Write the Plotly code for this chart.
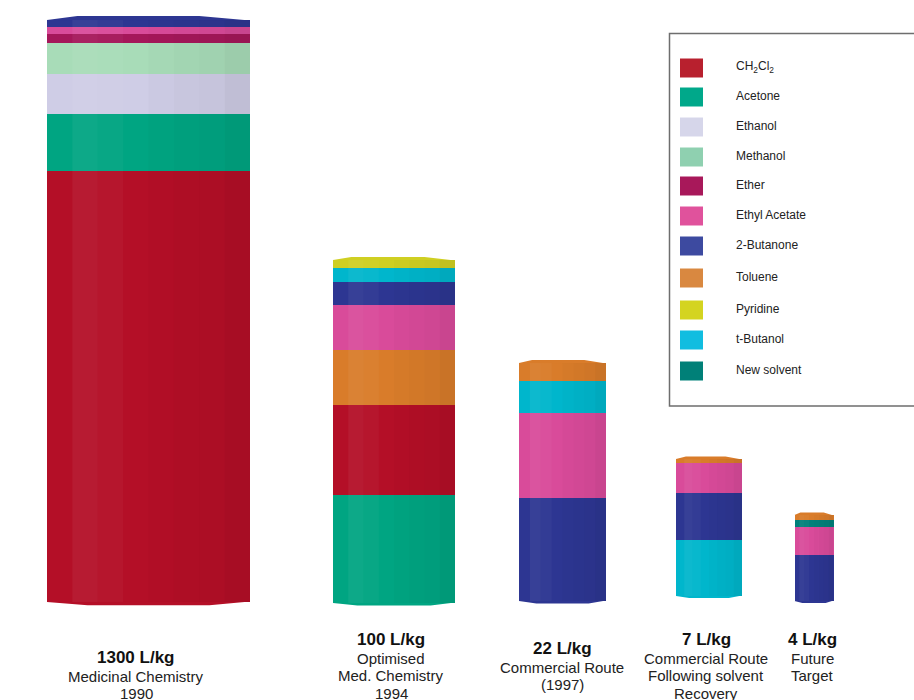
import plotly.graph_objects as go

# ---------------- data ----------------
solvents = ["CH2Cl2", "Acetone", "Ethanol", "Methanol", "Ether", "Ethyl Acetate",
            "2-Butanone", "Toluene", "Pyridine", "t-Butanol", "New solvent"]
solvent_labels = ["CH<sub>2</sub>Cl<sub>2</sub>", "Acetone", "Ethanol", "Methanol", "Ether",
                  "Ethyl Acetate", "2-Butanone", "Toluene", "Pyridine", "t-Butanol", "New solvent"]

col_totals = ["1300 L/kg", "100 L/kg", "22 L/kg", "7 L/kg", "4 L/kg"]
col_descriptions = [["Medicinal Chemistry", "1990"],
                    ["Optimised", "Med. Chemistry", "1994"],
                    ["Commercial Route", "(1997)"],
                    ["Commercial Route", "Following solvent", "Recovery"],
                    ["Future", "Target"]]

# stacked segments, bottom to top (heights as drawn, arbitrary units)
stack_1990_solv = ["CH2Cl2", "Acetone", "Ethanol", "Methanol", "Ether", "Ethyl Acetate", "2-Butanone"]
stack_1990_vals = [431, 57, 40, 31, 9, 7, 7]
stack_1994_solv = ["Acetone", "CH2Cl2", "Toluene", "Ethyl Acetate", "2-Butanone", "t-Butanol", "Pyridine"]
stack_1994_vals = [108, 90, 55, 45, 23, 14, 8]
stack_1997_solv = ["2-Butanone", "Ethyl Acetate", "t-Butanol", "Toluene"]
stack_1997_vals = [103, 85, 32, 18]
stack_recov_solv = ["t-Butanol", "2-Butanone", "Ethyl Acetate", "Toluene"]
stack_recov_vals = [56, 47, 30, 4]
stack_future_solv = ["2-Butanone", "Ethyl Acetate", "New solvent", "Toluene"]
stack_future_vals = [46, 28, 7, 5]

stacks = [(stack_1990_solv, stack_1990_vals), (stack_1994_solv, stack_1994_vals),
          (stack_1997_solv, stack_1997_vals), (stack_recov_solv, stack_recov_vals),
          (stack_future_solv, stack_future_vals)]

# ---------------- styles / layout constants ----------------
colors = {"CH2Cl2": "#b40f27", "Acetone": "#00a582", "Ethanol": "#cfcde6",
          "Methanol": "#a8dcb8", "Ether": "#a5175a", "Ethyl Acetate": "#d94b9a",
          "2-Butanone": "#2d3692", "Toluene": "#d97c2a", "Pyridine": "#cfcf22",
          "t-Butanol": "#00b6cc", "New solvent": "#00807a"}
legend_colors = {"CH2Cl2": "#b8202e", "Acetone": "#00a88a", "Ethanol": "#d6d6ea",
                 "Methanol": "#8fd0b0", "Ether": "#a8185a", "Ethyl Acetate": "#e0529c",
                 "2-Butanone": "#3d4aa0", "Toluene": "#d98840", "Pyridine": "#d4d420",
                 "t-Butanol": "#10bde0", "New solvent": "#008078"}

# pixel-based layout: x in px, y = 600 - px_y
col_centers = [148.5, 394, 562.5, 709, 814]
col_widths = [203, 122, 87, 66, 39]
col_bottom_offset = [-2, -3, -1, 4, -1]
cap = [4, 3, 3, 2.5, 2.5]
label_first_y = [657, 639, 648, 639, 639]
label_x = [136, 391, 562, 706, 812]
line_gap = 17.5

def Y(py):
    return 600 - py

fig = go.Figure()
shapes = []
annotations = []

seg = {s: {"x": [], "y": [], "base": [], "w": []} for s in solvents}
tops = []
for ci, (sv, vv) in enumerate(stacks):
    b = col_bottom_offset[ci]
    for s, v in zip(sv, vv):
        seg[s]["x"].append(col_centers[ci])
        seg[s]["y"].append(v)
        seg[s]["base"].append(b)
        seg[s]["w"].append(col_widths[ci])
        b += v
    tops.append((b, sv[-1], sv[0], col_bottom_offset[ci]))

for s in solvents:
    if seg[s]["x"]:
        fig.add_trace(go.Bar(x=seg[s]["x"], y=seg[s]["y"], base=seg[s]["base"],
                             width=seg[s]["w"], marker=dict(color=colors[s], line=dict(width=0)),
                             name=s, showlegend=False, hoverinfo="name"))

# cylinder caps and shading stripes
shade = [0.0, 0.05, 0.03, 0.0, -0.015, -0.03, -0.045, -0.07]
for ci, (top, top_s, bot_s, bottom) in enumerate(tops):
    xc, w = col_centers[ci], col_widths[ci]
    x0, x1 = xc - w / 2, xc + w / 2
    c = cap[ci]
    shapes.append(dict(type="path", xref="x", yref="y",
                       path=f"M {x0},{top} L {x0 + w*0.15},{top + c} L {x1 - w*0.25},{top + c} L {x1},{top - 0.5} Z",
                       fillcolor=colors[top_s], line=dict(width=0), layer="above"))
    shapes.append(dict(type="path", xref="x", yref="y",
                       path=f"M {x0},{bottom} L {x0 + w*0.2},{bottom - c*0.8} L {x1 - w*0.2},{bottom - c*0.8} L {x1},{bottom + 0.5} Z",
                       fillcolor=colors[bot_s], line=dict(width=0), layer="above"))
    n = len(shade)
    for k, a in enumerate(shade):
        if a == 0:
            continue
        sx0 = x0 + w * k / n
        sx1 = x0 + w * (k + 1) / n
        col = f"rgba(255,255,255,{a})" if a > 0 else f"rgba(0,0,0,{-a})"
        shapes.append(dict(type="rect", xref="x", yref="y", x0=sx0, x1=sx1,
                           y0=bottom, y1=top, fillcolor=col, line=dict(width=0), layer="above"))

# column labels
for ci in range(len(col_totals)):
    y0 = label_first_y[ci]
    annotations.append(dict(x=label_x[ci], y=Y(y0), xref="x", yref="y", text=f"<b>{col_totals[ci]}</b>",
                            showarrow=False, font=dict(size=17, color="#111"), xanchor="center", yanchor="middle"))
    for li, line in enumerate(col_descriptions[ci]):
        annotations.append(dict(x=label_x[ci], y=Y(y0 + 19 + li * line_gap), xref="x", yref="y", text=line,
                                showarrow=False, font=dict(size=15, color="#222"),
                                xanchor="center", yanchor="middle"))

# legend box
shapes.append(dict(type="rect", xref="x", yref="y", x0=669.5, x1=918, y0=Y(33.5), y1=Y(406),
                   line=dict(color="#6e6e6e", width=1.5), fillcolor="rgba(0,0,0,0)", layer="above"))
leg_rows = [68, 97, 127, 157, 186, 216, 246, 278, 310, 340, 371]
for i, s in enumerate(solvents):
    ry = leg_rows[i]
    shapes.append(dict(type="rect", xref="x", yref="y", x0=680, x1=703, y0=Y(ry - 9.5), y1=Y(ry + 9.5),
                       fillcolor=legend_colors[s], line=dict(width=0), layer="above"))
    annotations.append(dict(x=734, y=Y(ry - 1), xref="x", yref="y", text=solvent_labels[i], showarrow=False,
                            font=dict(size=12, color="#222"), xanchor="left", yanchor="middle"))

fig.update_layout(
    width=914, height=700, margin=dict(l=0, r=0, t=0, b=0),
    paper_bgcolor="white", plot_bgcolor="white",
    barmode="overlay", bargap=0,
    font=dict(family="Liberation Sans, Arial, sans-serif"),
    xaxis=dict(range=[0, 914], visible=False, fixedrange=True),
    yaxis=dict(range=[-100, 600], visible=False, fixedrange=True),
    shapes=shapes, annotations=annotations,
)

fig.write_html("out.html")
